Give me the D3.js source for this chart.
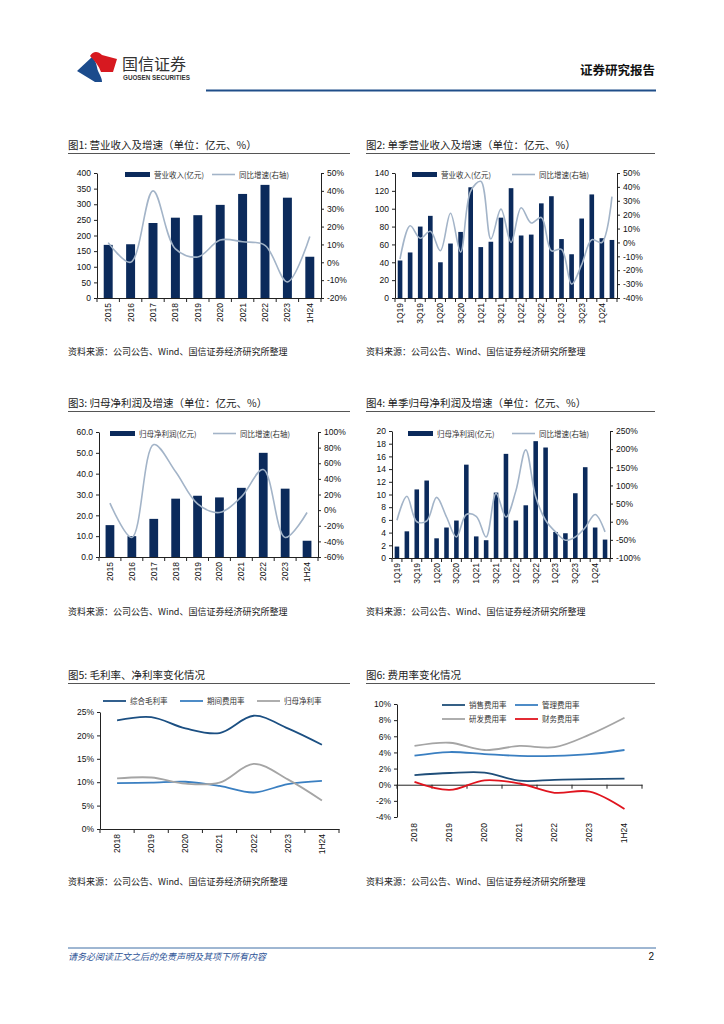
<!DOCTYPE html>
<html lang="zh">
<head>
<meta charset="UTF-8">
<title>国信证券 图表</title>
<script src="https://cdn.jsdelivr.net/npm/d3@7/dist/d3.min.js"></script>
<style>
  body { margin: 0; background: #fff; }
  svg text { font-family: "Liberation Sans", Arial, sans-serif; }
  .cn { font-family: "Noto Sans CJK SC", sans-serif; }
  .axis text { font-size: 8.5px; fill: #111; }
  .axis path, .axis line { stroke: #222; stroke-width: 1; }
</style>
</head>
<body>
<svg id="page" width="724" height="1024"></svg>
<script>
// ---- 数据 ----
const years = ["2015", "2016", "2017", "2018", "2019", "2020", "2021", "2022", "2023", "1H24"];
const revenue = [170, 172, 240, 257, 265, 298, 333, 362, 321, 132];
const revenueYoY = [11, 0, 40, 7.5, 3, 12.5, 11.5, 9.5, -11, 14.5];

const quarters = ["1Q19", "2Q19", "3Q19", "4Q19", "1Q20", "2Q20", "3Q20", "4Q20", "1Q21", "2Q21", "3Q21",
  "4Q21", "1Q22", "2Q22", "3Q22", "4Q22", "1Q23", "2Q23", "3Q23", "4Q23", "1Q24", "2Q24"];
const qRevenue = [42, 51, 80, 92, 40, 61, 74, 124, 57, 63, 90, 123, 70, 71, 106, 114, 66, 49, 89, 116, 67, 65];
const qRevenueYoY = [-12, 12, 3, 8, -6, 21, -7, 37, 44, 2.5, 24, 0, 25, 14, 18, -6, -5, -30, -16, 2, 0, 33];

const profit = [15.3, 10, 18.3, 28, 29.4, 28.6, 33.2, 50, 32.8, 7.8];
const profitYoY = [9, -35, 84, 49, 8, -3, 17, 52, -35, -3];

const qProfit = [1.8, 4.2, 10.8, 12.2, 3.1, 4.8, 5.9, 14.7, 3.4, 2.8, 10.3, 16.4, 5.9, 8.3, 18.4, 17.4,
  4.1, 3.9, 10.2, 14.3, 4.8, 2.9];
const qProfitYoY = [4, 70, 0, 2, 67, 13, -42, 20, 15, -42, 78, 13, 85, 198, 69, 4, -28, -51, -42, -16, 20, -28];

const marginYears = ["2018", "2019", "2020", "2021", "2022", "2023", "1H24"];
const grossMargin = [23.2, 23.9, 21.5, 20.5, 24.2, 21.5, 18.0];
const periodExpense = [9.8, 9.9, 10.1, 9.2, 7.8, 9.6, 10.3];
const netMargin = [10.8, 11.0, 9.7, 9.9, 13.9, 10.6, 6.1];

const sellingRate = [1.2, 1.45, 1.5, 0.5, 0.6, 0.7, 0.75];
const adminRate = [3.6, 4.05, 3.8, 3.57, 3.57, 3.78, 4.3];
const rdRate = [4.8, 5.2, 4.3, 4.8, 4.65, 6.2, 8.3];
const financeRate = [0.35, -0.65, 0.55, 0.15, -1.0, -0.85, -3.0];

const leftTicks1 = d3.range(0, 401, 50), rightTicks1 = d3.range(-20, 51, 10);
const leftTicks2 = d3.range(0, 141, 20), rightTicks2 = d3.range(-40, 51, 10);
const leftTicks3 = d3.range(0, 61, 10), rightTicks3 = d3.range(-60, 101, 20);
const leftTicks4 = d3.range(0, 21, 2), rightTicks4 = d3.range(-100, 251, 50);
const ticks5 = d3.range(0, 26, 5), ticks6 = d3.range(-4, 11, 2);

// ---- 样式 ----
const barColor = "#0b2a5b";
const yoyColor = "#a3b4c8";
const smooth = d3.curveCatmullRom.alpha(0.5);

const svg = d3.select("#page");

// 页眉
const logo = svg.append("g");
logo.append("path").attr("d", "M77,71 L92,57 C98,63 96,68 99,73 C101,77 102,79 102,82 L95,82 Z").attr("fill", "#1b4b8c");
logo.append("path").attr("d", "M90,56 C93,51 98,51 102,55 L117,59 L113,72 L101,72 C99,66 95,61 90,56 Z").attr("fill", "#d71920");
svg.append("text").attr("class", "cn").attr("x", 122).attr("y", 70).attr("font-size", 16).attr("fill", "#333").text("国信证券");
svg.append("text").attr("x", 123).attr("y", 79.5).attr("font-size", 6.3).attr("font-weight", "bold").attr("fill", "#333").text("GUOSEN SECURITIES");
svg.append("text").attr("class", "cn").attr("x", 655).attr("y", 74.5).attr("text-anchor", "end")
  .attr("font-size", 12.5).attr("font-weight", "bold").attr("fill", "#111").text("证券研究报告");
svg.append("line").attr("x1", 206).attr("x2", 656).attr("y1", 90.5).attr("y2", 90.5).attr("stroke", "#1f4e89").attr("stroke-width", 2);

// 页脚
svg.append("line").attr("x1", 68).attr("x2", 656).attr("y1", 948).attr("y2", 948).attr("stroke", "#3f6fa5").attr("stroke-width", 1);
svg.append("text").attr("class", "cn").attr("x", 68).attr("y", 960).attr("font-size", 9).attr("font-style", "italic")
  .attr("fill", "#2f5597").text("请务必阅读正文之后的免责声明及其项下所有内容");
svg.append("text").attr("x", 654).attr("y", 960).attr("text-anchor", "end").attr("font-size", 10).attr("fill", "#111").text("2");

// 标题和资料来源
function frame(x, w, titleY, title, sourceY) {
  svg.append("text").attr("class", "cn").attr("x", x).attr("y", titleY + 4).attr("font-size", 10.5).attr("fill", "#222").text(title);
  svg.append("line").attr("x1", x).attr("x2", x + w).attr("y1", titleY + 8.5).attr("y2", titleY + 8.5).attr("stroke", "#555").attr("stroke-width", 1);
  svg.append("text").attr("class", "cn").attr("x", x).attr("y", sourceY + 3.5).attr("font-size", 9).attr("fill", "#222")
    .text("资料来源：公司公告、Wind、国信证券经济研究所整理");
}
frame(68, 282, 145, "图1: 营业收入及增速（单位：亿元、%）", 351);
frame(366, 289, 145, "图2: 单季营业收入及增速（单位：亿元、%）", 351);
frame(68, 282, 403, "图3: 归母净利润及增速（单位：亿元、%）", 611);
frame(366, 289, 403, "图4: 单季归母净利润及增速（单位：亿元、%）", 611);
frame(68, 282, 675, "图5: 毛利率、净利率变化情况", 881);
frame(366, 289, 675, "图6: 费用率变化情况", 881);

function legendBar(x, y, label) {
  svg.append("rect").attr("x", x).attr("y", y - 2.5).attr("width", 25).attr("height", 5).attr("fill", barColor);
  svg.append("text").attr("class", "cn").attr("x", x + 29).attr("y", y + 3).attr("font-size", 7.5).attr("fill", "#333").text(label);
}
function legendLine(x, y, color, label, w) {
  svg.append("line").attr("x1", x).attr("x2", x + 23).attr("y1", y).attr("y2", y).attr("stroke", color).attr("stroke-width", w || 1.6);
  svg.append("text").attr("class", "cn").attr("x", x + 27).attr("y", y + 3).attr("font-size", 7.5).attr("fill", "#333").text(label);
}

function rotateLabels(g) {
  g.selectAll("text").attr("transform", "rotate(-90)").attr("text-anchor", "end")
    .attr("x", -5).attr("y", 0).attr("dy", "0.35em");
}

function barLineChart(c) {
  const x = d3.scaleBand().domain(c.cats).range([c.x0, c.x1]);
  const yL = d3.scaleLinear().domain(d3.extent(c.leftTicks)).range([c.y1, c.y0]);
  const yR = d3.scaleLinear().domain(d3.extent(c.rightTicks)).range([c.y1, c.y0]);
  const g = svg.append("g");

  g.selectAll("rect.bar").data(c.bars).join("rect").attr("class", "bar")
    .attr("x", (d, i) => x(c.cats[i]) + x.bandwidth() * (1 - c.barRatio) / 2)
    .attr("width", x.bandwidth() * c.barRatio)
    .attr("y", d => yL(d)).attr("height", d => yL(0) - yL(d))
    .attr("fill", barColor);

  g.append("path").datum(c.line)
    .attr("d", d3.line().x((d, i) => x(c.cats[i]) + x.bandwidth() / 2).y(d => yR(d)).curve(smooth))
    .attr("fill", "none").attr("stroke", yoyColor).attr("stroke-width", 1.6);

  g.append("g").attr("class", "axis").attr("transform", `translate(${c.x0},0)`)
    .call(d3.axisLeft(yL).tickValues(c.leftTicks).tickSize(3).tickSizeOuter(0).tickFormat(c.leftFmt || d3.format("d")));
  g.append("g").attr("class", "axis").attr("transform", `translate(${c.x1},0)`)
    .call(d3.axisRight(yR).tickValues(c.rightTicks).tickSize(3).tickSizeOuter(0).tickFormat(d => d + "%"));

  const xa = g.append("g").attr("class", "axis").attr("transform", `translate(0,${c.y1})`)
    .call(d3.axisBottom(x).tickValues(c.cats.filter((d, i) => i % c.labelEvery === 0)).tickSize(0).tickSizeOuter(0));
  xa.call(rotateLabels);
  xa.selectAll(".bound").data(d3.range(c.cats.length + 1)).join("line").attr("class", "bound")
    .attr("x1", i => c.x0 + i * x.step()).attr("x2", i => c.x0 + i * x.step())
    .attr("y1", 0).attr("y2", 4);

  legendBar(c.legX1, c.legY, c.barLabel);
  legendLine(c.legX2, c.legY, yoyColor, "同比增速(右轴)");
}

barLineChart({ cats: years, bars: revenue, line: revenueYoY, x0: 97, x1: 321, y0: 173, y1: 298,
  leftTicks: leftTicks1, rightTicks: rightTicks1, barRatio: 0.4, labelEvery: 1,
  legX1: 125, legX2: 212, legY: 174.5, barLabel: "营业收入(亿元)" });
barLineChart({ cats: quarters, bars: qRevenue, line: qRevenueYoY, x0: 395, x1: 617, y0: 173, y1: 298,
  leftTicks: leftTicks2, rightTicks: rightTicks2, barRatio: 0.46, labelEvery: 2,
  legX1: 412, legX2: 512, legY: 174.5, barLabel: "营业收入(亿元)" });
barLineChart({ cats: years, bars: profit, line: profitYoY, x0: 99, x1: 318, y0: 432, y1: 557,
  leftTicks: leftTicks3, rightTicks: rightTicks3, barRatio: 0.4, labelEvery: 1, leftFmt: d3.format(".1f"),
  legX1: 110, legX2: 213, legY: 433.5, barLabel: "归母净利润(亿元)" });
barLineChart({ cats: quarters, bars: qProfit, line: qProfitYoY, x0: 392, x1: 610, y0: 431, y1: 558,
  leftTicks: leftTicks4, rightTicks: rightTicks4, barRatio: 0.46, labelEvery: 2,
  legX1: 408, legX2: 512, legY: 433.5, barLabel: "归母净利润(亿元)" });

function lineChart(c) {
  const x = d3.scaleBand().domain(c.cats).range([c.x0, c.x1]);
  const y = d3.scaleLinear().domain(d3.extent(c.ticks)).range([c.y1, c.y0]);
  const g = svg.append("g");

  g.append("g").attr("class", "axis").attr("transform", `translate(${c.x0},0)`)
    .call(d3.axisLeft(y).tickValues(c.ticks).tickSize(3).tickSizeOuter(0).tickFormat(d => d + "%"));

  const xa = g.append("g").attr("class", "axis").attr("transform", `translate(0,${y(0)})`)
    .call(d3.axisBottom(x).tickSize(0).tickSizeOuter(0));
  xa.selectAll("text").remove();
  xa.selectAll(".bound").data(d3.range(c.cats.length + 1)).join("line").attr("class", "bound")
    .attr("x1", i => c.x0 + i * x.step()).attr("x2", i => c.x0 + i * x.step())
    .attr("y1", 0).attr("y2", 4);
  const xl = g.append("g").attr("class", "axis").attr("transform", `translate(0,${c.y1})`)
    .call(d3.axisBottom(x).tickSize(0).tickSizeOuter(0));
  xl.select(".domain").remove();
  xl.call(rotateLabels);
  xl.selectAll("text").attr("x", -c.labelGap);

  c.series.forEach(s => {
    g.append("path").datum(s.values)
      .attr("d", d3.line().x((d, i) => x(c.cats[i]) + x.bandwidth() / 2).y(d => y(d)).curve(smooth))
      .attr("fill", "none").attr("stroke", s.color).attr("stroke-width", 1.8);
    legendLine(s.lx, s.ly, s.color, s.name, 1.8);
  });
}

lineChart({ cats: marginYears, ticks: ticks5, x0: 100, x1: 339, y0: 712, y1: 829, labelGap: 5,
  series: [
    { name: "综合毛利率", values: grossMargin, color: "#1b4f82", lx: 103, ly: 701 },
    { name: "期间费用率", values: periodExpense, color: "#3a7fc1", lx: 180, ly: 701 },
    { name: "归母净利率", values: netMargin, color: "#a5a5a5", lx: 257, ly: 701 }
  ] });
lineChart({ cats: marginYears, ticks: ticks6, x0: 397, x1: 642, y0: 704, y1: 817, labelGap: 6,
  series: [
    { name: "销售费用率", values: sellingRate, color: "#1f4e79", lx: 442, ly: 705 },
    { name: "管理费用率", values: adminRate, color: "#3a7fc1", lx: 515, ly: 705 },
    { name: "研发费用率", values: rdRate, color: "#a5a5a5", lx: 442, ly: 719 },
    { name: "财务费用率", values: financeRate, color: "#e0141e", lx: 515, ly: 719 }
  ] });
</script>
</body>
</html>
